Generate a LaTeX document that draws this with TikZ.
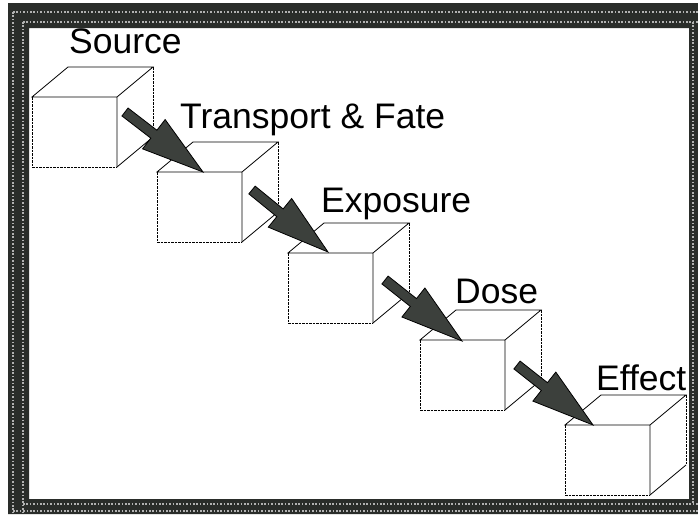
\documentclass[tikz,border=0pt]{standalone}
\usepackage{fontspec}
\setmainfont{Liberation Sans}
\usetikzlibrary{calc}
\definecolor{arrowgray}{HTML}{3C403C}
\definecolor{framegray}{HTML}{2A2D2A}
\newcommand\cubebox[3]{%
  \node[face] (#1) at (#2,#3) {};
  \fill[white] (#1.north west) -- ++(36pt,30pt) -- ($(#1.north east)+(36pt,30pt)$)
     -- ($(#1.south east)+(36pt,30pt)$) -- (#1.south east) -- (#1.south west) -- cycle;
  \draw[edge] (#1.south east) -- (#1.north east) -- (#1.north west) -- ++(36pt,30pt)
     -- ($(#1.north east)+(36pt,30pt)$) -- (#1.north east);
  \draw[edge] (#1.south east) -- ($(#1.south east)+(36pt,30pt)$);
  \draw[hid] ($(#1.north east)+(36pt,30pt)$) -- ($(#1.south east)+(36pt,30pt)$);
  \draw[hid] (#1.north west) -- (#1.south west) -- (#1.south east);
}
\newcommand\bigarrow[2]{%
  \coordinate (base) at ($(#2)!62pt!(#1)$);
  \filldraw[arrowfill] ($(#1)!5pt!90:(#2)$) -- ($(base)!5pt!90:(#2)$) -- ($(base)!18.5pt!90:(#2)$)
     -- (#2) -- ($(base)!18.5pt!-90:(#2)$) -- ($(base)!5pt!-90:(#2)$) -- ($(#1)!5pt!-90:(#2)$) -- cycle;
}
\begin{document}
\begin{tikzpicture}[x=1pt,y=-1pt,
  edge/.style={line width=0.8pt},
  hid/.style={line width=0.6pt, dash pattern=on 2.5pt off 1pt},
  lbl/.style={font=\fontsize{35.5}{40}\selectfont, inner sep=0pt, anchor=base west},
  arrowfill/.style={fill=arrowgray, draw=black, line width=0.8pt, line join=miter},
  face/.style={minimum width=85pt, minimum height=70pt, inner sep=0pt, outer sep=0pt,
               anchor=north west, draw=none},
  dotrow/.style={draw=gray!60, line width=1.5pt, dash pattern=on 1.5pt off 1.9pt}]
\useasboundingbox (0,0) rectangle (698,514);
\fill[white] (0,0) rectangle (698,514);
% boxes
\cubebox{src}{32}{97}
\cubebox{tf}{157}{172}
\cubebox{exp}{288}{253}
\cubebox{dose}{420}{340}
\cubebox{eff}{565}{425}
% labels
\node[lbl] (lsrc) at (69,53) {Source};
\node[lbl] (ltf) at (180,128) {Transport \& Fate};
\node[lbl] (lexp) at (321,212) {Exposure};
\node[lbl] (ldose) at (455,303) {Dose};
\node[lbl] (leff) at (596,390) {Effect};
% arrows
\coordinate (t1) at (125,112); \coordinate (h1) at (203,172);
\coordinate (t2) at (252,190); \coordinate (h2) at (328,252);
\coordinate (t3) at (385,280); \coordinate (h3) at (462,341);
\coordinate (t4) at (517,365); \coordinate (h4) at (593,425);
\bigarrow{t1}{h1}
\bigarrow{t2}{h2}
\bigarrow{t3}{h3}
\bigarrow{t4}{h4}
% frame
\fill[framegray, even odd rule] (8,3) rectangle (698,514) (29,28) rectangle (689,499);
\draw[dotrow] (13,12) -- (698,12);
\draw[dotrow] (23,22) -- (698,22);
\draw[dotrow] (13,12) -- (13,514);
\draw[dotrow] (23,22) -- (23,514);
\draw[dotrow] (23,504) -- (698,504);
\draw[dotrow] (13,511) -- (698,511);
\draw[dotrow] (693,22) -- (693,504);
\end{tikzpicture}
\end{document}
